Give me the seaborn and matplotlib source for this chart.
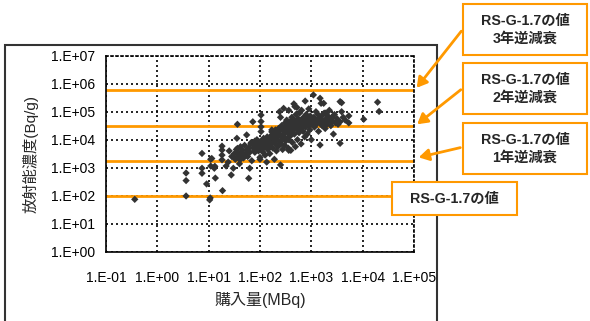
import matplotlib

matplotlib.use("Agg")
import matplotlib.pyplot as plt
import numpy as np
import pandas as pd
import seaborn as sns
from matplotlib.patches import FancyArrowPatch, Rectangle


# log10 of purchase amount (MBq) and concentration (Bq/g)
LOG_PURCHASE = [
    -0.44, 0.56, 0.56, 0.56, 0.87, 0.87, 0.87, 0.96, 1.04, 1.04, 1.03, 1.02,
    1.11, 1.13, 1.12, 1.26, 1.26, 1.26, 1.26, 1.27, 1.06,
    1.34, 1.38, 1.40, 1.44, 1.45, 1.48, 1.50, 1.52, 1.54, 1.55, 1.56, 1.56,
    1.56, 1.58, 1.60, 1.61, 1.62, 1.63, 1.65, 1.66, 1.68, 1.70, 1.72, 1.74,
    1.75, 1.76, 1.78, 1.78, 1.80, 1.80,
    1.82, 1.83, 1.84, 1.86, 1.87, 1.88, 1.89, 1.90, 1.90, 1.92, 1.93, 1.94,
    1.95, 1.96, 1.97, 1.98, 2.00, 2.00, 2.00, 2.01, 2.02, 2.02, 2.02, 2.02,
    2.03, 2.04, 2.05, 2.06, 2.07, 2.08, 2.10, 2.10, 2.12, 2.13, 2.13, 2.14,
    2.15, 2.16, 2.18, 2.19, 2.20,
    2.22, 2.23, 2.23, 2.24, 2.25, 2.26, 2.28, 2.28, 2.30, 2.30, 2.31, 2.32,
    2.33, 2.34, 2.35, 2.36, 2.37, 2.38, 2.38, 2.40, 2.40, 2.40, 2.41, 2.42,
    2.43, 2.44, 2.45, 2.46, 2.46, 2.47, 2.48, 2.49, 2.50, 2.50, 2.51, 2.52,
    2.53, 2.54, 2.55, 2.56, 2.56, 2.56, 2.57, 2.58, 2.59, 2.60, 2.60,
    2.61, 2.62, 2.62, 2.63, 2.64, 2.65, 2.66, 2.66, 2.67, 2.68, 2.68, 2.69,
    2.70, 2.70, 2.71, 2.72, 2.72, 2.73, 2.74, 2.75, 2.76, 2.77, 2.78, 2.79,
    2.80, 2.80, 2.81, 2.82, 2.83, 2.84, 2.85, 2.86, 2.87, 2.88, 2.88, 2.89,
    2.90, 2.91, 2.92, 2.93, 2.94, 2.95, 2.96, 2.97, 2.98, 2.99, 3.00, 3.00,
    3.02, 3.04, 3.05, 3.06, 3.08, 3.09, 3.10, 3.12, 3.13, 3.14, 3.15, 3.17,
    3.17, 3.18, 3.19, 3.20, 3.21, 3.22, 3.24, 3.25, 3.26, 3.27, 3.28, 3.29,
    3.30, 3.32, 3.33, 3.35, 3.36, 3.38, 3.40, 3.42, 3.43, 3.45, 3.47, 3.50,
    3.52, 3.56, 3.56, 3.56, 3.59, 3.59, 3.62, 3.66, 3.73, 3.73, 4.02, 4.29,
    4.32,
]
LOG_CONC = [
    1.87, 1.99, 2.54, 2.81, 3.51, 2.98, 2.80, 2.42, 3.30, 3.06, 1.92, 1.85,
    2.98, 2.63, 3.05, 3.77, 3.63, 3.45, 3.28, 2.18, 3.33,
    3.06, 3.20, 3.60, 2.74, 3.40, 2.98, 3.50, 3.30, 3.65, 4.05, 3.69, 3.51,
    4.55, 3.40, 3.14, 3.28, 3.75, 3.55, 3.45, 3.62, 3.35, 3.80, 3.50, 4.17,
    3.65, 3.40, 2.62, 3.70, 2.98, 3.55,
    3.85, 3.90, 3.25, 4.64, 3.70, 3.80, 3.60, 3.55, 3.95, 3.72, 3.65, 4.00,
    3.85, 3.78, 3.60, 3.92, 3.37, 3.30, 3.75, 3.88, 4.88, 4.65, 4.46, 4.29,
    3.68, 3.98, 3.82, 3.55, 4.05, 3.72, 3.90, 3.45, 3.80, 3.95, 3.20, 4.10,
    3.65, 3.88, 4.00, 3.50, 3.75,
    4.15, 4.35, 4.28, 3.90, 3.70, 4.05, 3.30, 4.20, 4.35, 3.85, 4.00, 3.60,
    4.25, 4.10, 3.75, 4.40, 3.95, 5.00, 4.30, 3.10, 4.80, 4.15, 3.85, 4.50,
    4.00, 3.65, 4.35, 5.12, 4.20, 4.10, 3.80, 4.60, 4.30, 3.95, 4.45, 4.70,
    4.05, 4.25, 3.70, 4.00, 3.62, 5.05, 4.55, 4.35, 4.65, 3.62, 4.15,
    4.50, 4.80, 4.30, 3.90, 4.60, 4.40, 5.28, 4.70, 4.20, 5.18, 4.55, 3.75,
    4.90, 4.45, 4.65, 5.15, 4.35, 4.00, 4.75, 4.55, 4.25, 4.95, 4.60, 4.40,
    4.70, 3.85, 5.05, 4.50, 4.65, 4.30, 4.80, 4.55, 4.10, 5.38, 4.68, 4.45,
    4.90, 4.60, 4.20, 4.75, 4.50, 5.10, 4.62, 4.35, 4.85, 4.55, 4.70, 4.00,
    4.60, 5.60, 4.80, 4.45, 4.70, 5.00, 4.55, 4.65, 4.90, 4.30, 4.75, 5.48,
    3.81, 4.60, 5.30, 4.85, 4.50, 4.70, 5.30, 4.95, 4.60, 4.40, 4.95, 4.75,
    4.55, 4.85, 4.65, 5.05, 4.70, 4.50, 4.80, 4.65, 4.20, 4.90, 4.60, 4.75,
    4.55, 5.36, 4.64, 3.87, 5.32, 5.00, 4.80, 4.70, 4.85, 4.60, 4.73, 5.34,
    5.01,
]

# RS-G-1.7 level and its back-decayed values (Bq/g)
LIMIT_LEVELS = [1.0e2, 1.8e3, 3.2e4, 6.0e5]
LIMIT_LABELS = [
    "RS-G-1.7の値",
    "RS-G-1.7の値\n1年逆減衰",
    "RS-G-1.7の値\n2年逆減衰",
    "RS-G-1.7の値\n3年逆減衰",
]

X_TICKS = [1e-1, 1e0, 1e1, 1e2, 1e3, 1e4, 1e5]
X_TICK_LABELS = ["1.E-01", "1.E+00", "1.E+01", "1.E+02", "1.E+03", "1.E+04", "1.E+05"]
Y_TICKS = [1e0, 1e1, 1e2, 1e3, 1e4, 1e5, 1e6, 1e7]
Y_TICK_LABELS = ["1.E+00", "1.E+01", "1.E+02", "1.E+03", "1.E+04", "1.E+05", "1.E+06", "1.E+07"]

ORANGE = "#FF9900"
W, H = 590, 321


def px_box(x0, y0, x1, y1):
    # pixel box (top-left origin) -> figure fraction (left, bottom, width, height)
    return x0 / W, 1 - y1 / H, (x1 - x0) / W, (y1 - y0) / H


def px(x, y):
    return x / W, 1 - y / H


def main() -> None:
    sns.set_theme(style="white")
    plt.rcParams["font.family"] = ["Liberation Sans", "Noto Sans CJK JP"]

    df = pd.DataFrame(
        {
            "purchase": np.power(10.0, LOG_PURCHASE),
            "conc": np.power(10.0, LOG_CONC),
        }
    )

    fig = plt.figure(figsize=(W / 100, H / 100), dpi=100)
    ax = fig.add_axes(px_box(106, 55.7, 414, 251.7))

    for level in LIMIT_LEVELS:
        ax.axhline(level, color=ORANGE, lw=2, zorder=2)

    sns.scatterplot(
        data=df, x="purchase", y="conc", ax=ax, marker="D", s=14,
        color="#333333", edgecolor="none", zorder=3,
    )

    ax.set_xscale("log")
    ax.set_yscale("log")
    ax.set_xlim(1e-1, 1e5)
    ax.set_ylim(1e0, 1e7)
    ax.set_xticks(X_TICKS)
    ax.set_xticklabels(X_TICK_LABELS)
    ax.set_yticks(Y_TICKS)
    ax.set_yticklabels(Y_TICK_LABELS)
    ax.minorticks_off()
    ax.tick_params(axis="x", length=0, pad=14, labelsize=10, colors="black")
    ax.tick_params(axis="y", length=0, pad=8, labelsize=10, colors="black")
    ax.grid(True, color="black", linestyle=(0, (1.2, 1.8)), linewidth=1.2)
    for side in ["left", "bottom"]:
        ax.spines[side].set_color("black")
        ax.spines[side].set_linewidth(1.2)
    for side in ["top", "right"]:
        ax.spines[side].set_color("black")
        ax.spines[side].set_linewidth(1.2)
        ax.spines[side].set_linestyle((0, (1.2, 1.8)))
    ax.set_xlabel("購入量(MBq)", fontsize=11.5, labelpad=5)
    ax.set_ylabel("放射能濃度(Bq/g)", fontsize=11, labelpad=9)

    # outer chart frame
    fig.add_artist(Rectangle(px(5, 330), (437 - 5) / W, (330 - 45) / H,
                             transform=fig.transFigure, fill=False,
                             edgecolor="#333333", lw=1.5, clip_on=False))

    # callout boxes
    boxes = [
        (392, 182, 517, 215),
        (463, 123, 587, 174),
        (463, 63, 587, 114),
        (463, 4, 587, 55),
    ]
    for (x0, y0, x1, y1), label in zip(boxes, LIMIT_LABELS):
        fig.add_artist(Rectangle(px(x0, y1), (x1 - x0) / W, (y1 - y0) / H,
                                 transform=fig.transFigure, facecolor="white",
                                 edgecolor=ORANGE, lw=1.5, zorder=5))
        fig.text((x0 + x1) / 2 / W, 1 - (y0 + y1) / 2 / H, label,
                 ha="center", va="center", fontsize=10.3, fontweight="bold",
                 linespacing=1.35, zorder=6)

    arrows = [
        ((463, 147), (416, 158)),
        ((463, 88), (415, 126)),
        ((463, 29), (415, 90)),
    ]
    for start, end in arrows:
        fig.add_artist(FancyArrowPatch(px(*start), px(*end), transform=fig.transFigure,
                                       arrowstyle="-|>,head_length=6,head_width=3.5",
                                       color=ORANGE, lw=2, zorder=5))

    fig.savefig("out.png", dpi=100)
    plt.close(fig)


if __name__ == "__main__":
    main()
